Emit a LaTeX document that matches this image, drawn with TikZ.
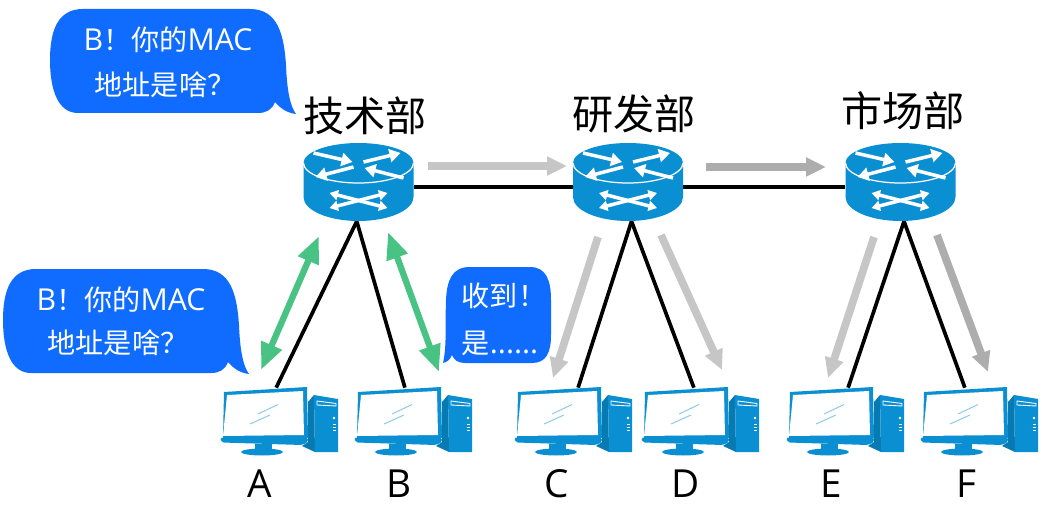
\documentclass[tikz,border=0pt]{standalone}
\usepackage{fontspec}
\setmainfont{Open Sans}
\newfontfamily\cjk{Noto Sans CJK SC}
\usetikzlibrary{arrows.meta,calc}
\definecolor{netblue}{HTML}{0A8FD2}
\definecolor{chatblue}{HTML}{0F6CFF}
\definecolor{replygreen}{HTML}{48C383}
\definecolor{flowlight}{HTML}{C6C6C6}
\definecolor{flowdark}{HTML}{ADADAD}
\newcommand{\zh}[1]{{\cjk\fontsize{16}{18}\selectfont #1}}
\tikzset{
  % router drawn around the centre of its node
  router/.pic={
    \fill[netblue] (-55,-24) -- (-55,10) arc[start angle=180, end angle=0, x radius=55, y radius=24]
      -- (55,-24) arc[start angle=0, end angle=-180, x radius=55, y radius=20] -- cycle;
    \draw[white, line width=0.7pt] (-55,-24) arc[start angle=180, end angle=0, x radius=55, y radius=20];
    \foreach \ax/\ay/\bx/\by in {-45/-34/-6/-25, -5/-20/-43/-10, 5/-25/42/-34, 45/-9/6/-19}
      \draw[chip] (\ax,\ay) -- (\bx,\by);
    \draw[chip, {Triangle[length=1.7mm,width=2mm]}-{Triangle[length=1.7mm,width=2mm]}] (-29,6) -- (29,21);
    \draw[chip, {Triangle[length=1.7mm,width=2mm]}-{Triangle[length=1.7mm,width=2mm]}] (-29,21) -- (29,6);
  },
  % computer, origin at the upper left of its drawing
  computer/.pic={
    \fill[netblue] (14,22) -- (97,17) -- (98,68) -- (13,68) -- cycle;
    \fill[white] (17,25) -- (93,21) -- (94,65) -- (13,66) -- cycle;
    \draw[netblue!45, line width=0.6pt] (48,44) -- (68,34.5) (40,54) -- (60,45);
    \fill[netblue, rounded corners=1pt] (10,67.5) -- (98,67.5) -- (98,72) -- (92,75) -- (12,72.5) -- cycle;
    \fill[netblue] (45,74) rectangle (62,81);
    \fill[netblue] (52,82) ellipse[x radius=21, y radius=3.5];
    \fill[netblue!85!black] (98,32) -- (104,25) -- (105,82) -- (92,76) -- (98,72) -- cycle;
    \fill[netblue] (104,25) -- (128,29) -- (128,82) -- (105,82) -- cycle;
    \draw[white, line width=0.5pt] (107,31) -- (126,33.5) -- (126,36) -- (107,35) -- cycle;
    \fill[white] (124,48) circle[radius=1.3];
    \draw[white, line width=0.5pt] (123,54) -- (126,54) (123,57) -- (126,57) (123,60) -- (126,60);
  },
  % chat bubble with the tail at the lower right
  bubble/.pic={
    \fill[chatblue] (83,9) -- (250,9) .. controls (278,9) and (284,35) .. (286,65)
      .. controls (287,90) and (290,106) .. (296,114) .. controls (287,113) and (280,108) .. (275,102)
      .. controls (272,110) and (266,113) .. (258,113) -- (78,113)
      .. controls (58,113) and (50,90) .. (50,60) .. controls (50,30) and (58,9) .. (83,9) -- cycle;
  },
}
\begin{document}
\begin{tikzpicture}[x=0.2mm, y=-0.2mm,
  hub/.style={minimum width=22mm, minimum height=13.6mm, inner sep=0pt},
  port/.style={inner sep=0pt, minimum size=0pt},
  chip/.style={white, line width=2pt, -{Triangle[length=2.2mm,width=2.6mm]}},
  link/.style={black, line width=2.1pt},
  flow/.style={line width=4.4pt, -{Triangle[length=4mm,width=3.6mm]}},
  talk/.style={line width=3.6pt, {Triangle[length=5.4mm,width=4.2mm]}-{Triangle[length=5.4mm,width=4.2mm]}, replygreen},
  title/.style={font=\cjk\fontsize{23.4}{26}\selectfont},
  pclabel/.style={font=\fontsize{22}{25}\selectfont},
  say/.style={text=white, font=\fontsize{17.2}{18}\selectfont, inner sep=0pt}]
  \useasboundingbox (0,0) rectangle (1042,522);
  % routers
  \node[hub] (tech) at (358.5,187) {};
  \node[hub] (dev) at (628,187) {};
  \node[hub] (mkt) at (900.5,187) {};
  % ports on the computers
  \foreach \n/\x in {pA/276, pB/405, pC/578, pD/694, pE/848, pF/965}
    \node[port] (\n) at (\x,388) {};
  % cables
  \draw[link] (tech.east) -- (dev.west);
  \draw[link] (dev.east) -- (mkt.west);
  \foreach \a/\b in {tech/pA, tech/pB}
    \draw[link] ([xshift=-1pt]\a.south) -- (\b);
  \foreach \a/\b in {dev/pC, dev/pD, mkt/pE, mkt/pF}
    \draw[link] ([xshift=2pt]\a.south) -- (\b);
  \foreach \n/\x in {tech/358.5, dev/628, mkt/900.5}
    \pic at (\x,187) {router};
  \foreach \x in {210,344,504,631,776,910}
    \pic at (\x,370) {computer};
  % frame flow
  \foreach \n/\x/\y in {f1/428/166, f2/567/166, f3/706/167, f4/826/167, f5/598/237, f6/553/378,
    f7/661/235, f8/722/370, f9/874/237, f10/828/378, f11/937/235, f12/988/372,
    g1/319/236, g2/261/370, g3/388/232, g4/439/372}
    \coordinate (\n) at (\x,\y);
  \draw[flow, flowlight] (f1) -- (f2);
  \draw[flow, flowdark] (f3) -- (f4);
  \draw[flow, flowlight] (f5) -- (f6);
  \draw[flow, flowlight] (f7) -- (f8);
  \draw[flow, flowlight] (f9) -- (f10);
  \draw[flow, flowdark] (f11) -- (f12);
  \draw[talk] (g1) -- (g2);
  \draw[talk] (g3) -- (g4);
  % bubbles
  \pic at (0,0) {bubble};
  \pic at (-47,260) {bubble};
  \fill[chatblue] (470,267) -- (530,267) .. controls (546,267) and (551,280) .. (551,300)
    -- (551,335) .. controls (551,353) and (546,363) .. (532,363) -- (465,363)
    .. controls (458,363) and (454,360) .. (452,355) .. controls (450,360) and (447,362) .. (443,363)
    .. controls (447,345) and (445,325) .. (446,300) .. controls (447,280) and (452,267) .. (470,267) -- cycle;
  \node[say] (s1) at (168,40) {B\zh{！你的}MAC};
  \node[say] (s2) at (165,85) {\zh{地址是啥？}};
  \node[say] (s3) at (121,300) {B\zh{！你的}MAC};
  \node[say] (s4) at (118,343) {\zh{地址是啥？}};
  \node[say] (s5) at (504,296) {\zh{收到！}};
  \node[say] (s6) at (500,343) {\zh{是}......};
  % names
  \node[title] (t1) at (365,116) {技术部};
  \node[title] (t2) at (634,114) {研发部};
  \node[title] (t3) at (903,111) {市场部};
  \foreach \n/\x in {A/260, B/399, C/557, D/686, E/831, F/966}
    \node[pclabel] (l\n) at (\x,484) {\n};
\end{tikzpicture}
\end{document}
